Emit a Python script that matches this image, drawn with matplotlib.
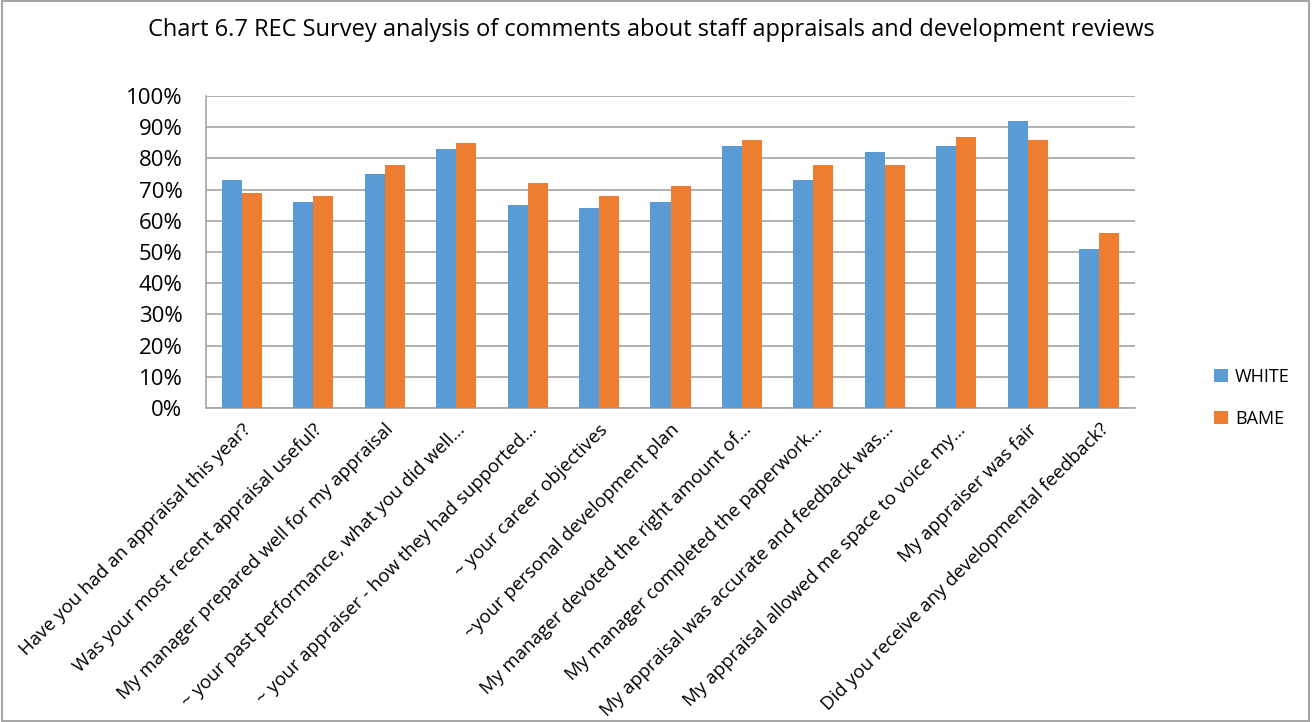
import numpy as np
import matplotlib.pyplot as plt
from matplotlib.patches import Rectangle

categories = [
    "Have you had an appraisal this year?",
    "Was your most recent appraisal useful?",
    "My manager prepared well for my appraisal",
    "~ your past performance, what you did well...",
    "~ your appraiser - how they had supported...",
    "~ your career objectives",
    "~your personal development plan",
    "My manager devoted the right amount of...",
    "My manager completed the paperwork...",
    "My appraisal was accurate and feedback was...",
    "My appraisal allowed me space to voice my...",
    "My appraiser was fair",
    "Did you receive any developmental feedback?",
]
white = [73, 66, 75, 83, 65, 64, 66, 84, 73, 82, 84, 92, 51]
bame = [69, 68, 78, 85, 72, 68, 71, 86, 78, 78, 87, 86, 56]

plt.rcParams['font.family'] = ['Open Sans', 'DejaVu Sans']

fig = plt.figure(figsize=(13.14, 7.22), dpi=100)
ax = fig.add_axes([206 / 1314, 1 - 408 / 722, 929 / 1314, 312 / 722])

x = np.arange(len(categories))
w = 0.28
ax.bar(x - w / 2, white, w, color='#5B9BD5', label='WHITE', zorder=3)
ax.bar(x + w / 2, bame, w, color='#ED7D31', label='BAME', zorder=3)

ax.set_xlim(-0.5, len(categories) - 0.5)
ax.set_ylim(0, 100)
ax.set_yticks(range(0, 101, 10))
ax.set_yticklabels([f"{v}%" for v in range(0, 101, 10)], fontsize=16)
ax.yaxis.grid(True, color='#A6A6A6', linewidth=1.2, zorder=0)
ax.tick_params(axis='y', length=0, pad=17)
ax.tick_params(axis='x', length=0, pad=9)
ax.set_xticks(x)
ax.set_xticklabels(categories, rotation=45, ha='right', va='top',
                   rotation_mode='anchor', fontsize=13.5)
for s in ['top', 'right']:
    ax.spines[s].set_visible(False)
ax.spines['left'].set_color('#A6A6A6')
ax.spines['bottom'].set_color('#A6A6A6')
ax.spines['left'].set_linewidth(1.2)
ax.spines['bottom'].set_linewidth(1.2)

fig.text(651 / 1314, 1 - 30 / 722, "Chart 6.7 REC Survey analysis of comments about staff appraisals and development reviews",
         ha='center', va='center', fontsize=17)

ax.legend(loc='upper left', bbox_to_anchor=(1205 / 1314, 1 - 359 / 722),
          bbox_transform=fig.transFigure, frameon=False,
          fontsize=13, handlelength=0.75, handleheight=0.75, labelspacing=1.3,
          handletextpad=0.4, borderpad=0)

fig.patches.append(Rectangle((2 / 1314, 0.002), 1307 / 1314, 0.996, transform=fig.transFigure,
                             fill=False, edgecolor='#A6A6A6', linewidth=1.5))

fig.savefig('out.png', dpi=100)
